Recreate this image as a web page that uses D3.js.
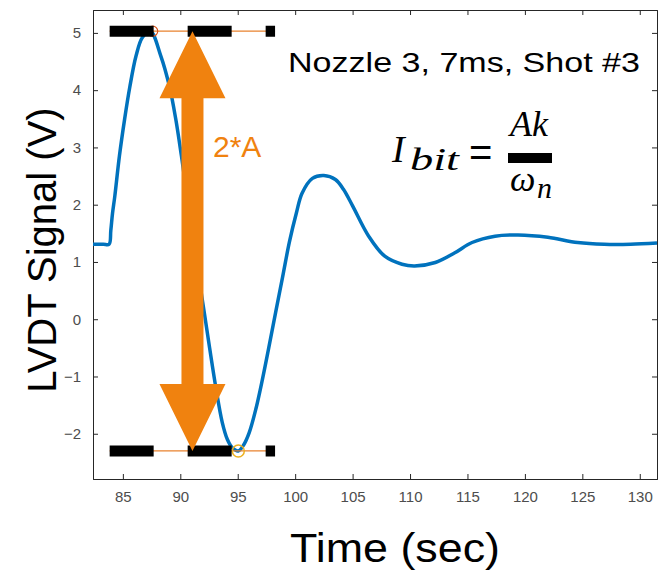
<!DOCTYPE html>
<html>
<head>
<meta charset="utf-8">
<script src="https://cdn.jsdelivr.net/npm/d3@7"></script>
<style>
  body { margin: 0; background: #fff; }
  text { font-family: "Liberation Sans", Arial, sans-serif; }
  text.math { font-family: "Liberation Serif", "Times New Roman", serif; font-style: italic; }
</style>
</head>
<body>
<div class="canvas"></div>
<script>
// signal (time in sec, LVDT volts)
const timeSec = [82.4, 83.3, 83.8, 83.95, 84.1, 84.3, 84.7, 85.15, 85.6, 86.15, 86.7, 87.4,
  88.3, 89.05, 89.6, 90.1, 90.6, 91.1, 91.6, 92.1, 92.55, 93.1, 93.65, 94.1, 94.55, 95.05,
  95.5, 96.0, 96.6, 97.15, 97.7, 98.3, 98.9, 99.5, 100.1, 100.6, 101.5, 102.5, 103.5, 104.2,
  105.0, 106.4, 107.8, 109.3, 110.4, 112.2, 113.9, 115.4, 117.4, 119.4, 122.0, 124.6, 126.9,
  129.2, 131.5];
const signalV = [1.31, 1.31, 1.31, 1.55, 1.85, 2.15, 2.85, 3.49, 4.05, 4.6, 4.92, 5.03,
  4.6, 4.07, 3.5, 2.85, 2.15, 1.45, 0.75, 0.1, -0.5, -1.2, -1.8, -2.1, -2.25, -2.3,
  -2.2, -1.98, -1.55, -1.05, -0.5, 0.12, 0.73, 1.35, 1.85, 2.2, 2.46, 2.51, 2.44, 2.27,
  1.98, 1.45, 1.1, 0.96, 0.93, 0.99, 1.16, 1.34, 1.45, 1.47, 1.43, 1.34, 1.31,
  1.31, 1.33];

// peak / trough markers and the amplitude annotation
const peakPoint = [87.6, 5.03];
const troughPoint = [95.05, -2.3];
const refLineT = [83.85, 98.25];
const arrowT = 91.06;

const xTicks = [85, 90, 95, 100, 105, 110, 115, 120, 125, 130];
const yTicks = [-2, -1, 0, 1, 2, 3, 4, 5];

const svg = d3.select('.canvas')
  .append('svg')
    .attr('width', 666)
    .attr('height', 573);

const margin = {top: 10, right: 9, bottom: 94, left: 93};
const graphWidth = 666 - margin.left - margin.right;
const graphHeight = 573 - margin.top - margin.bottom;

const graph = svg.append('g')
  .attr('transform', `translate(${margin.left}, ${margin.top})`);

const x = d3.scaleLinear()
  .domain([82.4, 131.5])
  .range([0, graphWidth]);

const y = d3.scaleLinear()
  .domain([-2.79, 5.4])
  .range([graphHeight, 0]);

// axes, MATLAB style box with ticks inside
const axisColor = '#262626';
const xAxis = d3.axisBottom(x).tickValues(xTicks).tickSize(-5).tickPadding(12);
const yAxis = d3.axisLeft(y).tickValues(yTicks).tickSize(-5).tickPadding(12);

graph.append('g')
  .attr('transform', `translate(0, ${graphHeight})`)
  .call(xAxis);
graph.append('g').call(yAxis);
graph.append('g').call(d3.axisTop(x).tickValues(xTicks).tickSize(-5).tickFormat(''));
graph.append('g')
  .attr('transform', `translate(${graphWidth}, 0)`)
  .call(d3.axisRight(y).tickValues(yTicks).tickSize(-5).tickFormat(''));

graph.selectAll('.domain').attr('stroke', axisColor);
graph.selectAll('.tick line').attr('stroke', axisColor);
graph.selectAll('.tick text')
  .attr('fill', '#4d4d4d')
  .style('font-size', '15px');

// signal
const data = timeSec.map((t, i) => ({t, v: signalV[i]}));
const line = d3.line()
  .x(d => x(d.t))
  .y(d => y(d.v))
  .curve(d3.curveCatmullRom.alpha(0.5));

graph.append('path')
  .datum(data)
  .attr('fill', 'none')
  .attr('stroke', '#0072BD')
  .attr('stroke-width', 3.5)
  .attr('d', line);

// reference lines at peak and trough
[peakPoint, troughPoint].forEach(p => {
  graph.append('line')
    .attr('x1', x(refLineT[0])).attr('x2', x(refLineT[1]))
    .attr('y1', y(p[1])).attr('y2', y(p[1]))
    .attr('stroke', '#E8822E')
    .attr('stroke-width', 1.3);
});

graph.append('circle')
  .attr('cx', x(peakPoint[0])).attr('cy', y(peakPoint[1]))
  .attr('r', 5).attr('fill', 'none')
  .attr('stroke', '#D95319').attr('stroke-width', 1.2);
graph.append('circle')
  .attr('cx', x(troughPoint[0])).attr('cy', y(troughPoint[1]))
  .attr('r', 6).attr('fill', 'none')
  .attr('stroke', '#EDB120').attr('stroke-width', 1.5);

// thick black dashed bars
[peakPoint, troughPoint].forEach(p => {
  graph.append('line')
    .attr('x1', x(refLineT[0])).attr('x2', x(refLineT[1]))
    .attr('y1', y(p[1])).attr('y2', y(p[1]))
    .attr('stroke', '#000')
    .attr('stroke-width', 11)
    .attr('stroke-dasharray', '44,34');
});

// double arrow 2*A
const ax = x(arrowT);
const yTop = y(peakPoint[1]);
const yBot = y(troughPoint[1]);
const headL = 67, headW = 33, shaftW = 11;
const arrowPath = [
  [ax, yTop], [ax + headW, yTop + headL], [ax + shaftW, yTop + headL],
  [ax + shaftW, yBot - headL], [ax + headW, yBot - headL], [ax, yBot],
  [ax - headW, yBot - headL], [ax - shaftW, yBot - headL],
  [ax - shaftW, yTop + headL], [ax - headW, yTop + headL]
];
graph.append('path')
  .attr('d', 'M' + arrowPath.join('L') + 'Z')
  .attr('fill', '#F0820F');

svg.append('text')
  .attr('x', 213).attr('y', 157)
  .attr('fill', '#F0820F')
  .style('font-size', '30px')
  .text('2*A');

svg.append('text')
  .attr('x', 288).attr('y', 72)
  .attr('fill', '#000')
  .style('font-size', '28px')
  .attr('textLength', 352)
  .attr('lengthAdjust', 'spacingAndGlyphs')
  .text('Nozzle 3, 7ms, Shot #3');

// formula I_bit = Ak / omega_n
const fm = svg.append('g');
fm.append('text').attr('class', 'math').attr('x', 392).attr('y', 162).style('font-size', '38px').text('I');
fm.append('text').attr('class', 'math').attr('x', 410).attr('y', 170).style('font-size', '31px')
  .attr('textLength', 49).attr('lengthAdjust', 'spacingAndGlyphs').text('bit');
fm.append('text').attr('x', 469).attr('y', 166).style('font-size', '40px').text('=');
fm.append('rect').attr('x', 508).attr('y', 153).attr('width', 44).attr('height', 10).attr('fill', '#000');
fm.append('text').attr('class', 'math').attr('x', 510).attr('y', 136).style('font-size', '36px').text('Ak');
fm.append('text').attr('class', 'math').attr('x', 510).attr('y', 191).style('font-size', '36px').text('ω');
fm.append('text').attr('class', 'math').attr('x', 537).attr('y', 198).style('font-size', '30px').text('n');

// axis titles
svg.append('text')
  .attr('x', 290).attr('y', 562)
  .style('font-size', '40px')
  .attr('textLength', 210)
  .attr('lengthAdjust', 'spacingAndGlyphs')
  .text('Time (sec)');

svg.append('text')
  .attr('transform', 'translate(56, 250) rotate(-90)')
  .attr('text-anchor', 'middle')
  .style('font-size', '40px')
  .text('LVDT Signal (V)');
</script>
</body>
</html>
